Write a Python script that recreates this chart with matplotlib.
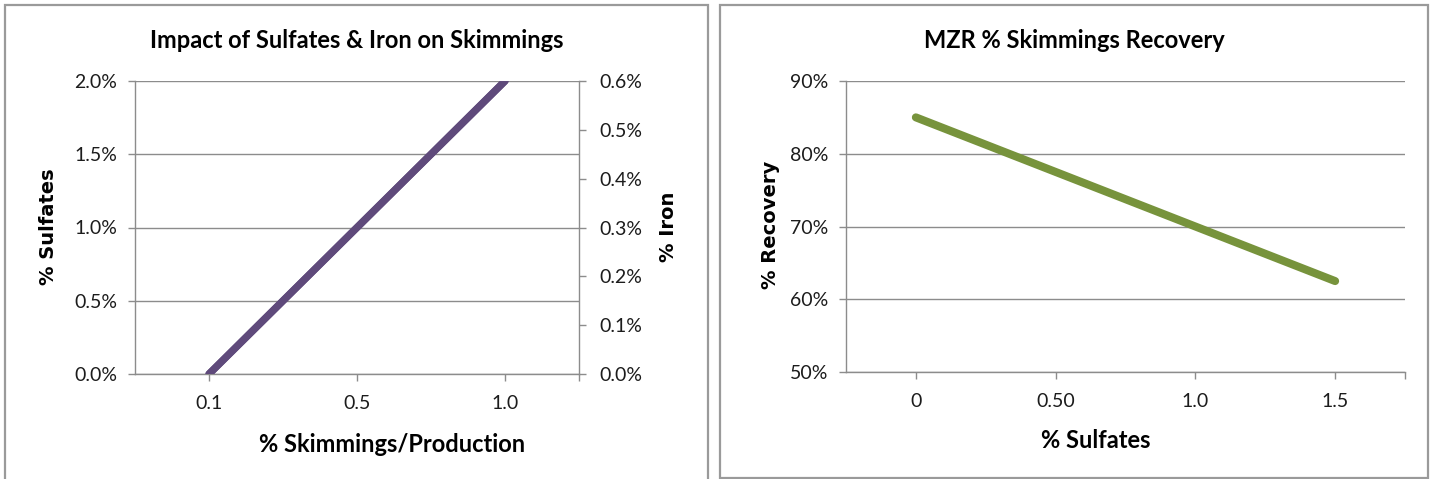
import matplotlib.pyplot as plt
from matplotlib.patches import Rectangle
from matplotlib.ticker import PercentFormatter

# left chart: sulfates / iron against skimmings
skim_labels = ['0.1', '0.5', '1.0']
sulfates_pct = [0.0, 1.0, 2.0]
iron_pct = [0.0, 0.3, 0.6]

# right chart: recovery against sulfates
sulfate_labels = ['0', '0.50', '1.0', '1.5']
recovery_pct = [85.0, 77.5, 70.0, 62.5]

W, H = 1433, 479
PURPLE = '#5f4a7b'
GREEN = '#77933c'
GRID = '#8c8c8c'
TXT = '#1c1c1c'
BODY = 'Lato'
YLAB = 'DejaVu Sans'
TICK_FS = 14

fig = plt.figure(figsize=(W / 100, H / 100), dpi=100)
fig.patch.set_facecolor('white')


def box(x0, y0, x1, y1):
    # pixel box (top-left origin) -> figure fraction rect
    return [x0 / W, 1 - y1 / H, (x1 - x0) / W, (y1 - y0) / H]


def frame(x0, y0, x1, y1):
    r = box(x0, y0, x1, y1)
    fig.add_artist(Rectangle((r[0], r[1]), r[2], r[3], transform=fig.transFigure,
                             fill=False, edgecolor='#9a9a9a', linewidth=1.6))


def style(ax):
    for s in ['top', 'right']:
        ax.spines[s].set_visible(False)
    for s in ['left', 'bottom']:
        ax.spines[s].set_color(GRID)
        ax.spines[s].set_linewidth(1.0)
    ax.tick_params(axis='both', colors=GRID, length=5, width=1.0,
                   labelcolor=TXT, labelsize=TICK_FS)
    ax.tick_params(axis='x', pad=10)
    ax.tick_params(axis='y', pad=8)
    ax.grid(axis='y', color=GRID, linewidth=1.0)
    ax.set_axisbelow(True)
    for lab in ax.get_xticklabels() + ax.get_yticklabels():
        lab.set_family(BODY)


frame(5, 5, 708, 490)
frame(720, 5, 1428, 478)

# ---- left panel
ax1 = fig.add_axes(box(135, 81, 579, 374))
x1 = list(range(len(skim_labels)))
ax1.plot(x1, sulfates_pct, color=PURPLE, linewidth=5.2, solid_capstyle='round', zorder=3)
ax1.set_xlim(-0.5, len(skim_labels) - 0.5)
ax1.set_ylim(0, 2.0)
ax1.set_yticks([0, 0.5, 1.0, 1.5, 2.0])
ax1.yaxis.set_major_formatter(PercentFormatter(xmax=100, decimals=1))
ax1.set_xticks(x1 + [len(skim_labels) - 0.5])
ax1.set_xticklabels(skim_labels + [''])
style(ax1)

ax1r = ax1.twinx()
ax1r.plot(x1, iron_pct, color=PURPLE, linewidth=5.2, solid_capstyle='round', zorder=3)
ax1r.set_ylim(0, 0.6)
ax1r.set_yticks([0, 0.1, 0.2, 0.3, 0.4, 0.5, 0.6])
ax1r.yaxis.set_major_formatter(PercentFormatter(xmax=100, decimals=1))
for s in ['top', 'left', 'bottom']:
    ax1r.spines[s].set_visible(False)
ax1r.spines['right'].set_color(GRID)
ax1r.spines['right'].set_linewidth(1.0)
ax1r.tick_params(axis='y', colors=GRID, length=5, width=1.0, labelcolor=TXT,
                 labelsize=TICK_FS, pad=10)
for lab in ax1r.get_yticklabels():
    lab.set_family(BODY)

fig.text(356.5 / W, 1 - 40 / H, 'Impact of Sulfates & Iron on Skimmings', ha='center',
         va='center', fontsize=17, fontweight='bold', family=BODY, color='black')
fig.text(392 / W, 1 - 445 / H, '% Skimmings/Production', ha='center', va='center',
         fontsize=17, fontweight='bold', family=BODY, color='black')
fig.text(48 / W, 1 - 227 / H, '% Sulfates', ha='center', va='center', rotation=90,
         fontsize=14, fontweight='bold', family=YLAB, color='black')
fig.text(668 / W, 1 - 227 / H, '% Iron', ha='center', va='center', rotation=90,
         fontsize=14, fontweight='bold', family=YLAB, color='black')

# ---- right panel
ax2 = fig.add_axes(box(846, 81, 1405, 372))
x2 = list(range(len(sulfate_labels)))
ax2.plot(x2, recovery_pct, color=GREEN, linewidth=5.8, solid_capstyle='round', zorder=3)
ax2.set_xlim(-0.5, len(sulfate_labels) - 0.5)
ax2.set_ylim(50, 90)
ax2.set_yticks([50, 60, 70, 80, 90])
ax2.yaxis.set_major_formatter(PercentFormatter(xmax=100, decimals=0))
ax2.set_xticks(x2 + [len(sulfate_labels) - 0.5])
ax2.set_xticklabels(sulfate_labels + [''])
style(ax2)

fig.text(1074 / W, 1 - 40 / H, 'MZR % Skimmings Recovery', ha='center', va='center',
         fontsize=17, fontweight='bold', family=BODY, color='black')
fig.text(1096 / W, 1 - 440 / H, '% Sulfates', ha='center', va='center',
         fontsize=17, fontweight='bold', family=BODY, color='black')
fig.text(770 / W, 1 - 225 / H, '% Recovery', ha='center', va='center', rotation=90,
         fontsize=14, fontweight='bold', family=YLAB, color='black')

fig.savefig('out.png', dpi=100, facecolor='white')
